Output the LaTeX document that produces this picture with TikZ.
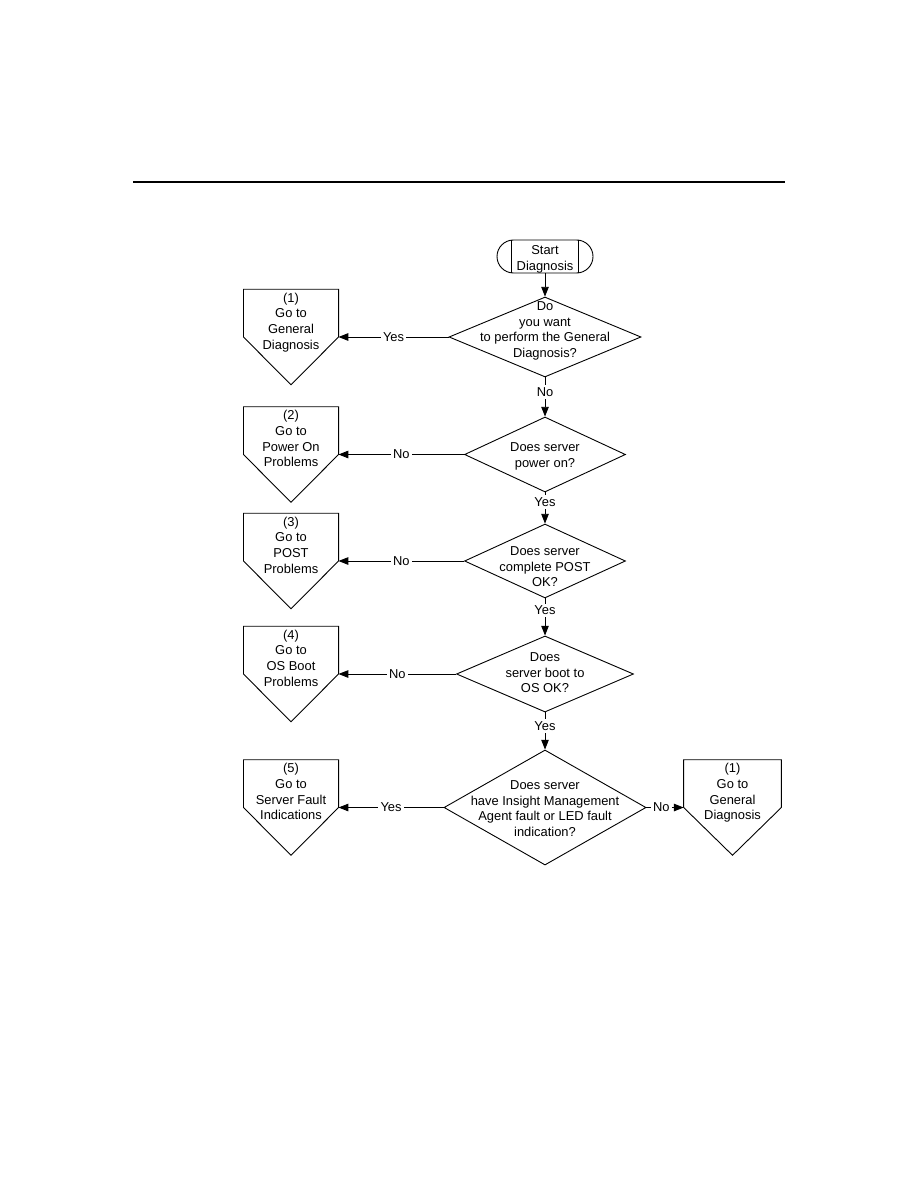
\documentclass[tikz,border=0pt]{standalone}
\usepackage{fontspec}
\setmainfont{Liberation Sans}
\usetikzlibrary{shapes.geometric,arrows.meta}

\tikzset{
  decision/.style={diamond, draw, inner sep=0pt, line width=0.6pt},
  offpage/.style={rectangle, inner sep=0pt, minimum width=63pt, minimum height=63.3pt},
  terminal/.style={rectangle, draw, rounded corners=11pt, line width=0.6pt,
    minimum width=64pt, minimum height=22pt, inner sep=0pt},
  flow/.style={-{Triangle[length=6.5pt,width=5pt]}, line width=0.6pt},
  answer/.style={fill=white, inner sep=1.5pt},
}

\begin{document}
\begin{tikzpicture}[x=0.6667pt,y=0.6667pt,yscale=-1,xscale=1,
  font=\fontsize{8.6}{10.5}\selectfont]
\useasboundingbox (0,0) rectangle (918,1188);

% Rule
\draw[line width=1.3pt] (133,182) -- (785,182);

% Start
\node[terminal, label={[align=center, yshift=-1.8pt]center:{Start\\Diagnosis}}]
  (start) at (545,256.5) {};
\draw[line width=0.6pt] ([xshift=10pt]start.north west) -- ([xshift=10pt]start.south west);
\draw[line width=0.6pt] ([xshift=-10pt]start.north east) -- ([xshift=-10pt]start.south east);

% Decisions
\node[decision, minimum width=128pt, minimum height=53.3pt,
  label={[align=center, yshift=4pt]center:{Do\\you want\\to perform the General\\Diagnosis?}}]
  (general) at (545,337) {};
\node[decision, minimum width=107.3pt, minimum height=50pt,
  label={[align=center, yshift=-1.3pt]center:{Does server\\power on?}}]
  (power) at (545,454.5) {};
\node[decision, minimum width=107.3pt, minimum height=49.3pt,
  label={[align=center, yshift=-3.8pt]center:{Does server\\complete POST\\OK?}}]
  (post) at (545,561) {};
\node[decision, minimum width=118pt, minimum height=50.7pt,
  label={[align=center, yshift=0.8pt]center:{Does\\server boot to\\OS OK?}}]
  (boot) at (545,674) {};
\node[decision, minimum width=134.7pt, minimum height=76.7pt,
  label={[align=center, yshift=-0.8pt]center:{Does server\\have Insight Management\\Agent fault or LED fault\\indication?}}]
  (fault) at (545,807.5) {};

% Off-page connectors
\node[offpage, label={[anchor=north, align=center, inner sep=2.2pt]north:{(1)\\Go to\\General\\Diagnosis}}]
  (goGeneral) at (291,337) {};
\node[offpage, label={[anchor=north, align=center, inner sep=2.2pt]north:{(2)\\Go to\\Power On\\Problems}}]
  (goPower) at (291,454.5) {};
\node[offpage, label={[anchor=north, align=center, inner sep=2.2pt]north:{(3)\\Go to\\POST\\Problems}}]
  (goPost) at (291,561) {};
\node[offpage, label={[anchor=north, align=center, inner sep=2.2pt]north:{(4)\\Go to\\OS Boot\\Problems}}]
  (goBoot) at (291,674) {};
\node[offpage, label={[anchor=north, align=center, inner sep=2.2pt]north:{(5)\\Go to\\Server Fault\\Indications}}]
  (goFault) at (291,807.5) {};
\node[offpage, minimum width=64.7pt, label={[anchor=north, align=center, inner sep=2.2pt]north:{(1)\\Go to\\General\\Diagnosis}}]
  (goGeneralB) at (732.5,807.5) {};

\foreach \g in {goGeneral,goPower,goPost,goBoot,goFault,goGeneralB}
  \draw[line width=0.6pt] (\g.north west) -- (\g.north east) -- (\g.east)
    -- (\g.south) -- (\g.west) -- cycle;

% Connections
\draw[flow] (start) -- (general);
\draw[flow] (general) -- node[answer, pos=0.375] {No} (power);
\draw[flow] (power) -- node[answer, pos=0.31] {Yes} (post);
\draw[flow] (post) -- node[answer, pos=0.32] {Yes} (boot);
\draw[flow] (boot) -- node[answer, pos=0.37] {Yes} (fault);
\draw[flow] (general.west) -- node[answer] {Yes} (goGeneral.east);
\draw[flow] (power.west) -- node[answer] {No} (goPower.east);
\draw[flow] (post.west) -- node[answer] {No} (goPost.east);
\draw[flow] (boot.west) -- node[answer] {No} (goBoot.east);
\draw[flow] (fault.west) -- node[answer] {Yes} (goFault.east);
\draw[flow] (fault.east) -- node[answer, pos=0.4] {No} (goGeneralB.west);

\end{tikzpicture}
\end{document}
